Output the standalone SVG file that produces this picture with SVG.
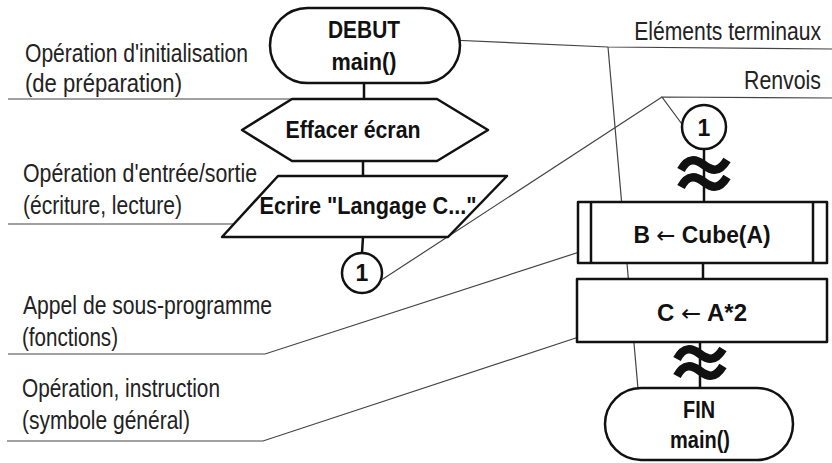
<svg xmlns="http://www.w3.org/2000/svg" width="832" height="463" viewBox="0 0 832 463">
<defs>
<style>
.shape{fill:#fff;stroke:#111;stroke-width:2.5;stroke-linejoin:round}
.flow{stroke:#111;stroke-width:2.5;fill:none}
.lead{stroke:#444;stroke-width:1.2;fill:none}
.wave{stroke:#111;stroke-width:8.5;fill:none;stroke-linecap:butt}
.lbl{font-family:"Liberation Sans Narrow","Liberation Sans",Arial,sans-serif;font-size:25px;fill:#222}
.nt{font-family:"Liberation Sans Narrow","Liberation Sans",Arial,sans-serif;font-size:23px;font-weight:bold;fill:#111;text-anchor:middle}
.arr{font-family:"DejaVu Sans",sans-serif;font-weight:normal}
</style>
</defs>
<rect width="832" height="463" fill="#fff"/>

<g id="connectors">
<line class="flow" x1="364" y1="83" x2="364" y2="99"/>
<line class="flow" x1="363" y1="161" x2="363" y2="176"/>
<line class="flow" x1="363" y1="237" x2="362" y2="253"/>
<line class="flow" x1="704" y1="149" x2="704" y2="202"/>
<line class="flow" x1="703" y1="263" x2="703" y2="279"/>
<line class="flow" x1="700" y1="342" x2="700" y2="388"/>
<path class="wave" d="M681,170 C688,157 696,159 704,165 S719,173 727,160"/>
<path class="wave" d="M681,187 C688,174 696,176 704,182 S719,190 727,177"/>
<path class="wave" d="M677,359 C684,346 692,348 700,354 S715,362 723,349"/>
<path class="wave" d="M677,376 C684,363 692,365 700,371 S715,379 723,366"/>
</g>

<g id="leaders">
<polyline class="lead" points="8,99 327,99"/>
<polyline class="lead" points="8,224 327,224"/>
<polyline class="lead" points="8,354 265,354 601,245"/>
<polyline class="lead" points="7,441 263,441 600,330"/>
<polyline class="lead" points="428,39 608,47 832,49"/>
<line class="lead" x1="608" y1="47" x2="641" y2="423"/>
<polyline class="lead" points="690,135 662,97 832,98"/>
<line class="lead" x1="662" y1="97" x2="363" y2="292"/>
</g>

<g id="debut">
<rect class="shape" x="270" y="8" width="190" height="75" rx="37.5"/>
<text class="nt" x="364" y="38" textLength="72" lengthAdjust="spacingAndGlyphs">DEBUT</text>
<text class="nt" x="364" y="70" textLength="65" lengthAdjust="spacingAndGlyphs">main()</text>
</g>

<g id="effacer">
<polygon class="shape" points="242,130 292,99 437,99 488,130 437,161 292,161"/>
<text class="nt" x="353" y="138" textLength="135" lengthAdjust="spacingAndGlyphs">Effacer écran</text>
</g>

<g id="ecrire">
<polygon class="shape" points="278,176 507,176 448,237 222,237"/>
<text class="nt" x="368" y="214" textLength="217" lengthAdjust="spacingAndGlyphs">Ecrire "Langage C..."</text>
</g>

<g id="renvoi1">
<circle class="shape" cx="362" cy="273" r="20"/>
<text class="nt" x="362" y="281" font-size="24">1</text>
</g>

<g id="renvoi2">
<circle class="shape" cx="704" cy="127" r="22"/>
<text class="nt" x="704" y="136" font-size="24">1</text>
</g>

<g id="cube">
<rect class="shape" x="578" y="202" width="249" height="61"/>
<line class="flow" x1="591" y1="202" x2="591" y2="263"/>
<line class="flow" x1="813" y1="202" x2="813" y2="263"/>
<text class="nt" x="702" y="243" textLength="137" lengthAdjust="spacingAndGlyphs">B <tspan class="arr">←</tspan> Cube(A)</text>
</g>

<g id="calc">
<rect class="shape" x="577" y="279" width="250" height="63"/>
<text class="nt" x="702" y="321" textLength="90" lengthAdjust="spacingAndGlyphs">C <tspan class="arr">←</tspan> A*2</text>
</g>

<g id="fin">
<rect class="shape" x="605" y="388" width="188" height="72" rx="36"/>
<text class="nt" x="699" y="418" textLength="32" lengthAdjust="spacingAndGlyphs">FIN</text>
<text class="nt" x="700" y="448" textLength="60" lengthAdjust="spacingAndGlyphs">main()</text>
</g>

<g id="labels">
<text class="lbl" x="25" y="62" textLength="223" lengthAdjust="spacingAndGlyphs">Opération d'initialisation</text>
<text class="lbl" x="25" y="92" textLength="157" lengthAdjust="spacingAndGlyphs">(de préparation)</text>
<text class="lbl" x="23" y="182" textLength="234" lengthAdjust="spacingAndGlyphs">Opération d'entrée/sortie</text>
<text class="lbl" x="23" y="214" textLength="159" lengthAdjust="spacingAndGlyphs">(écriture, lecture)</text>
<text class="lbl" x="23" y="314" textLength="249" lengthAdjust="spacingAndGlyphs">Appel de sous-programme</text>
<text class="lbl" x="22" y="346" textLength="96" lengthAdjust="spacingAndGlyphs">(fonctions)</text>
<text class="lbl" x="22" y="397" textLength="198" lengthAdjust="spacingAndGlyphs">Opération, instruction</text>
<text class="lbl" x="22" y="429" textLength="168" lengthAdjust="spacingAndGlyphs">(symbole général)</text>
<text class="lbl" transform="translate(821,40) scale(0.846,1)" text-anchor="end">Eléments terminaux</text>
<text class="lbl" transform="translate(821,89) scale(0.853,1)" text-anchor="end">Renvois</text>
</g>
</svg>
